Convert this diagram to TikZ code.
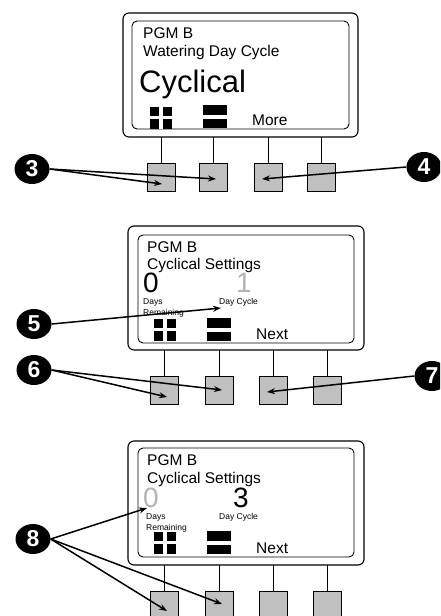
\documentclass[tikz,border=0pt]{standalone}
\usepackage{fontspec}
\setmainfont{Liberation Sans}
\usetikzlibrary{arrows.meta,shapes.geometric}
\definecolor{btngray}{RGB}{192,192,192}
\definecolor{dimgray}{RGB}{180,180,180}
\begin{document}
\begin{tikzpicture}[x=1pt,y=-1pt,
  frame/.style={draw=black,line width=1.1pt,rounded corners=6pt},
  screen/.style={draw=black,line width=0.9pt,rounded corners=5pt},
  btn/.style={draw=black,line width=0.9pt,fill=btngray,minimum width=28pt,minimum height=28pt,inner sep=0pt},
  stem/.style={line width=0.9pt},
  num/.style={ellipse,fill=black,minimum width=35pt,minimum height=30pt,inner sep=0pt,text=white,font=\bfseries\fontsize{23}{23}\selectfont},
  arr/.style={line width=1.5pt,-{Stealth[length=8pt,width=6pt]}},
  txt/.style={anchor=base west,inner sep=0pt,font=\fontsize{15.5}{18}\selectfont},
  big/.style={anchor=base west,inner sep=0pt,font=\fontsize{31}{31}\selectfont},
  digit/.style={anchor=base west,inner sep=0pt,font=\fontsize{28}{28}\selectfont},
  tiny/.style={anchor=base west,inner sep=0pt,font=\fontsize{8.5}{9}\selectfont},
  plusicon/.pic={\fill[black] (0,0) rectangle (22,22);
    \fill[white] (9.3,0) rectangle (12.7,22);
    \fill[white] (0,8.8) rectangle (22,12.2);},
  minusicon/.pic={\fill[black] (0,0) rectangle (24,23);
    \fill[white] (0,10) rectangle (24,14);}
]
\useasboundingbox (0,0) rectangle (440,616);
\clip (0,0) rectangle (440,616);
\fill[white] (0,0) rectangle (440,616);

% ---------- Panel 1 ----------
\draw[frame] (123,13) rectangle (358,137);
\draw[screen] (132,21) rectangle (349,129);
\node[txt] (p1a) at (143,38) {PGM B};
\node[txt] (p1b) at (143,56) {Watering Day Cycle};
\node[big] (p1c) at (139,92) {Cyclical};
\pic at (150,107) {plusicon};
\pic at (203,105) {minusicon};
\node[txt] (p1m) at (252,125) {More};
\foreach \x [count=\i] in {161,213,268,321}{
  \draw[stem] (\x,137) -- (\x,163);
  \node[btn] (b1\i) at (\x,177) {};
}

% ---------- Panel 2 ----------
\draw[frame] (128,226) rectangle (364,350);
\draw[screen] (138,235) rectangle (354,343);
\node[txt] (p2a) at (147,252) {PGM B};
\node[txt] (p2b) at (147,269) {Cyclical Settings};
\node[digit] (p2z) at (143,292) {0};
\node[digit,text=dimgray] (p2o) at (236,292) {1};
\node[tiny] (p2d) at (143,304.5) {Days};
\node[tiny] (p2r) at (143,315) {Remaining};
\node[tiny] (p2c) at (219,304) {Day Cycle};
\pic at (154,319) {plusicon};
\pic at (207,318) {minusicon};
\node[txt] (p2n) at (256,339) {Next};
\foreach \x [count=\i] in {164,219,273,327}{
  \draw[stem] (\x,350) -- (\x,376);
  \node[btn] (b2\i) at (\x,390.5) {};
}

% ---------- Panel 3 ----------
\draw[frame] (128,441) rectangle (364,565);
\draw[screen] (138,448) rectangle (354,557);
\node[txt] (p3a) at (147,465) {PGM B};
\node[txt] (p3b) at (147,483) {Cyclical Settings};
\node[digit,text=dimgray] (p3z) at (143,507) {0};
\node[digit] (p3t) at (233,507) {3};
\node[tiny] (p3d) at (146,519) {Days};
\node[tiny] (p3r) at (146,530) {Remaining};
\node[tiny] (p3c) at (219,519) {Day Cycle};
\pic at (154,532) {plusicon};
\pic at (207,531) {minusicon};
\node[txt] (p3n) at (256,553) {Next};
\foreach \x [count=\i] in {164,219,273,327}{
  \draw[stem] (\x,565) -- (\x,591);
  \node[btn,minimum height=32pt] (b3\i) at (\x,607) {};
}

% ---------- Callouts ----------
\node[num] (c3) at (32,169) {3};
\node[num] (c4) at (424,167) {4};
\node[num] (c5) at (34,324) {5};
\node[num] (c6) at (34,370) {6};
\node[num] (c7) at (432,376) {7};
\node[num] (c8) at (33,539) {8};

\coordinate (t3a) at (162,184);
\coordinate (t3b) at (216,179);
\coordinate (t4) at (262,179);
\coordinate (t5) at (221,308);
\coordinate (t6a) at (167,397);
\coordinate (t6b) at (222,390);
\coordinate (t7) at (267,392);
\coordinate (t8a) at (147,508);
\coordinate (t8b) at (167,611);
\coordinate (t8c) at (222,604);

\draw[arr] (c3.east) -- (t3a);
\draw[arr] (c3.east) -- (t3b);
\draw[arr] (c4.west) -- (t4);
\draw[arr] (c5.east) -- (t5);
\draw[arr] (c6.east) -- (t6a);
\draw[arr] (c6.east) -- (t6b);
\draw[arr] (c7.west) -- (t7);
\draw[arr] (c8.east) -- (t8a);
\draw[arr] (c8.east) -- (t8b);
\draw[arr] (c8.east) -- (t8c);
\end{tikzpicture}
\end{document}
